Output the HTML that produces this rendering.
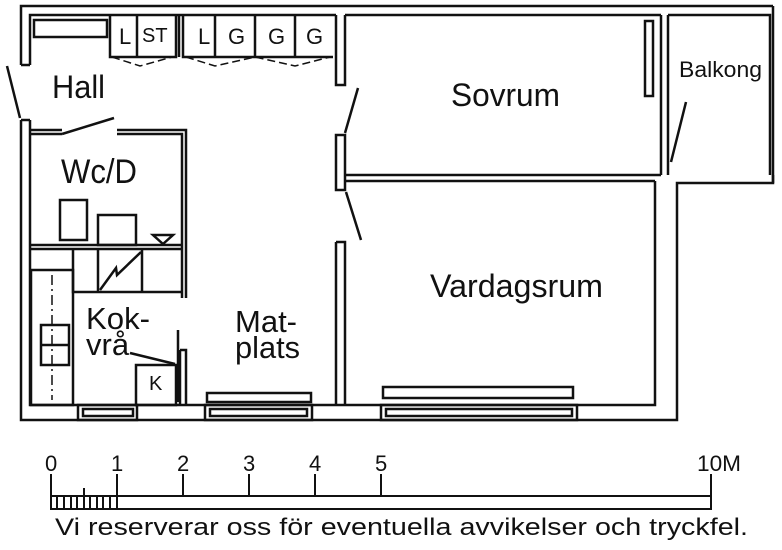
<!DOCTYPE html>
<html><head><meta charset="utf-8"><style>
html,body{margin:0;padding:0;background:#fff;width:782px;height:550px;overflow:hidden}
svg{display:block}
text{font-family:"Liberation Sans",sans-serif;fill:#111}
</style></head><body>
<svg width="782" height="550" viewBox="0 0 782 550" stroke="#111" fill="none" stroke-width="2.5">
<!-- outer walls -->
<path d="M21 65 V6 H773 M30 65 V15 H336 M345 15 H661 M668 15 H770 V175"/>
<path d="M21 120 V420 H677 V183 H773 V175 M30 120 V405 H655 V181"/>
<line x1="21" y1="65" x2="30" y2="65"/><line x1="21" y1="120" x2="30" y2="120"/>
<line x1="773" y1="6" x2="773" y2="183"/>
<line x1="7" y1="66" x2="20" y2="118"/>
<!-- hall/sovrum wall -->
<path d="M336 15 V85 H345 V15 M336 135 H345 V190 H336 Z M336 242 H345 V405 M336 242 V405"/>
<line x1="358" y1="88" x2="345" y2="133"/>
<line x1="346" y1="192" x2="361" y2="240"/>
<path d="M345 175 H661 M345 181 H655"/>
<path d="M661 15 V175 M668 15 V175"/>
<line x1="686" y1="102" x2="671" y2="162"/>
<rect x="645" y="21" width="8" height="75"/>
<!-- hall/wc wall -->
<path d="M30 130 H62 M30 134 H62 M117 130 H186 V298 M117 134 H182 V298"/>
<line x1="62" y1="134" x2="114" y2="118"/>
<path d="M30 245 H182 M30 249 H182"/>
<rect x="60" y="200" width="27" height="40"/><rect x="98" y="215" width="38" height="30"/>
<path d="M153 235 H173 L163 244 Z"/>
<rect x="34" y="20" width="73" height="17"/>
<!-- closets -->
<path d="M110 15 V57 H176 V15 M137 15 V57 M183 15 V57 H333 M215 15 V57 M255 15 V57 M295 15 V57 M179 15 V57"/>
<path d="M112 57 L140 66 L172 57 M186 57 L215 66 L255 57 L295 66 L330 57" stroke-dasharray="8 4" stroke-width="1.5"/>
<g stroke="none">
<text x="119" y="44" font-size="22">L</text>
<text x="142" y="42" font-size="20">ST</text>
<text x="198" y="44" font-size="22">L</text>
<text x="228" y="44" font-size="22">G</text>
<text x="268" y="44" font-size="22">G</text>
<text x="306" y="44" font-size="22">G</text>
</g>
<!-- kitchen -->
<rect x="31" y="270" width="42" height="135"/>
<line x1="52" y1="275" x2="52" y2="400" stroke-dasharray="10 4 2 4" stroke-width="1.5"/>
<rect x="41" y="325" width="28" height="40"/><line x1="41" y1="345" x2="69" y2="345"/>
<path d="M73 250 V292 H183 M98 250 V292 M142 250 V292"/>
<path d="M100 290 L116 268 L117 275 L141 252"/>
<rect x="136" y="365" width="40" height="40"/>
<path d="M180 350 H186 V405 M180 350 V405 M178 330 V402"/>
<line x1="130" y1="353" x2="175" y2="364"/>
<!-- windows -->
<rect x="78" y="405" width="59" height="15"/><rect x="83" y="409" width="50" height="7"/>
<rect x="205" y="405" width="107" height="15"/><rect x="210" y="409" width="97" height="7"/>
<rect x="381" y="405" width="196" height="15"/><rect x="386" y="409" width="186" height="7"/>
<rect x="207" y="393" width="104" height="9"/>
<rect x="383" y="387" width="190" height="11"/>
<!-- labels -->
<g stroke="none">
<text x="52" y="98" font-size="32" textLength="53" lengthAdjust="spacingAndGlyphs">Hall</text>
<text x="61" y="183" font-size="34" textLength="76" lengthAdjust="spacingAndGlyphs">Wc/D</text>
<text x="451" y="106" font-size="32" textLength="109" lengthAdjust="spacingAndGlyphs">Sovrum</text>
<text x="679" y="77" font-size="22" textLength="83" lengthAdjust="spacingAndGlyphs">Balkong</text>
<text x="430" y="297" font-size="32" textLength="173" lengthAdjust="spacingAndGlyphs">Vardagsrum</text>
<text x="86" y="329" font-size="31" textLength="64" lengthAdjust="spacingAndGlyphs">Kok-</text>
<text x="86" y="355" font-size="31">vrå</text>
<text x="235" y="332" font-size="31" textLength="62" lengthAdjust="spacingAndGlyphs">Mat-</text>
<text x="235" y="358" font-size="31" textLength="65" lengthAdjust="spacingAndGlyphs">plats</text>
<text x="149" y="390" font-size="20">K</text>
</g>
<!-- scale -->
<g stroke-width="2">
<path d="M51 474 V509 H711 V474 M51 496 H711 M117 474 V509 M183 474 V496 M249 474 V496 M315 474 V496 M381 474 V496"/>
<path d="M57 496 V509 M64 496 V509 M71 496 V509 M77 496 V509 M84 496 V509 M90 496 V509 M97 496 V509 M103 496 V509 M110 496 V509 M84 488 V496"/>
</g>
<g stroke="none" font-size="22">
<text x="45" y="471">0</text><text x="111" y="471">1</text><text x="177" y="471">2</text>
<text x="243" y="471">3</text><text x="309" y="471">4</text><text x="375" y="471">5</text>
<text x="697" y="471" textLength="44" lengthAdjust="spacingAndGlyphs">10M</text>
<text x="55" y="535" font-size="24" textLength="693" lengthAdjust="spacingAndGlyphs">Vi reserverar oss för eventuella avvikelser och tryckfel.</text>
</g>
</svg>
</body></html>
